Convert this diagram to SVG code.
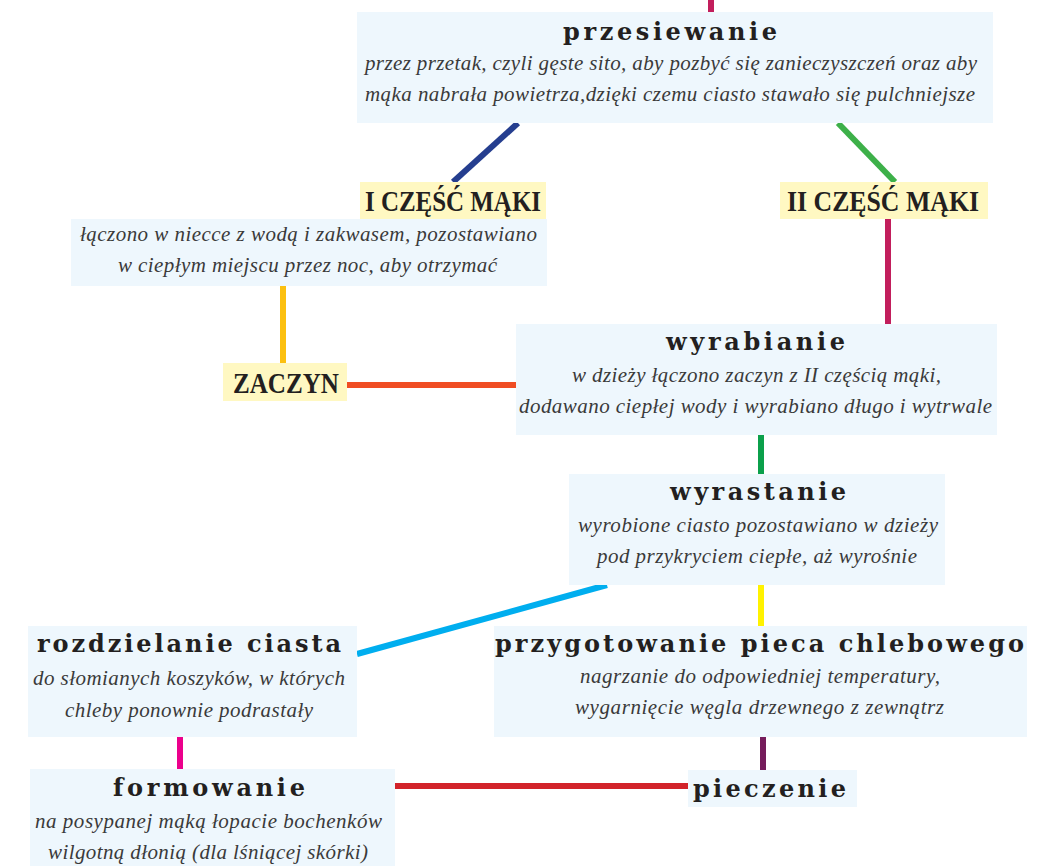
<svg xmlns="http://www.w3.org/2000/svg" width="1059" height="866" viewBox="0 0 1059 866">
<style>
.box{fill:#eef7fd}
.ybox{fill:#fff8c2}
.t{font-family:"DejaVu Serif","Liberation Serif",serif;font-weight:bold;font-size:24px;fill:#231f20;text-anchor:middle}
.c{font-family:"Liberation Serif","DejaVu Serif",serif;font-weight:bold;font-size:29px;fill:#231f20;text-anchor:middle}
.i{font-family:"Liberation Serif","DejaVu Serif",serif;font-style:italic;font-size:21px;fill:#3a3a3a;text-anchor:middle}
.ln{fill:none;stroke-width:6;stroke-linecap:butt}
</style>
<rect width="1059" height="866" fill="#ffffff"/>
<g id="connectors">
<line class="ln" x1="711" y1="0" x2="711" y2="12" stroke="#c21e5c"/>
<line class="ln" x1="518" y1="123" x2="453" y2="182" stroke="#253e8f"/>
<line class="ln" x1="838" y1="123" x2="895" y2="182" stroke="#3db049"/>
<line class="ln" x1="888" y1="219" x2="888" y2="324" stroke="#c21e5c"/>
<line class="ln" x1="283" y1="286" x2="283" y2="363" stroke="#fcc010"/>
<line class="ln" x1="347" y1="385" x2="516" y2="385" stroke="#f04d23"/>
<line class="ln" x1="761" y1="435" x2="761" y2="474" stroke="#0ba04b"/>
<line class="ln" x1="761" y1="585" x2="761" y2="626" stroke="#fff200"/>
<line class="ln" x1="607" y1="585" x2="357" y2="654" stroke="#00aeef" stroke-width="8"/>
<line class="ln" x1="180" y1="737" x2="180" y2="769" stroke="#ec008c"/>
<line class="ln" x1="763" y1="737" x2="763" y2="770" stroke="#751c5b"/>
<line class="ln" x1="395" y1="786" x2="690" y2="786" stroke="#d2232a"/>
</g>
<g id="przesiewanie">
<rect class="box" x="357" y="12" width="636" height="111"/>
<text class="t" x="670" y="40" textLength="214" lengthAdjust="spacing">przesiewanie</text>
<text class="i" x="671" y="70" textLength="612" lengthAdjust="spacing">przez przetak, czyli gęste sito, aby pozbyć się zanieczyszczeń oraz aby</text>
<text class="i" x="670" y="101" textLength="610" lengthAdjust="spacing">mąka nabrała powietrza,dzięki czemu ciasto stawało się pulchniejsze</text>
</g>
<g id="czesc1">
<rect class="ybox" x="360" y="182" width="186" height="37"/>
<text class="c" x="453" y="211" textLength="176" lengthAdjust="spacingAndGlyphs">I CZĘŚĆ MĄKI</text>
</g>
<g id="czesc1-opis">
<rect class="box" x="71" y="219" width="476" height="67"/>
<text class="i" x="308.5" y="241" textLength="457" lengthAdjust="spacing">łączono w niecce z wodą i zakwasem, pozostawiano</text>
<text class="i" x="307.5" y="272" textLength="379" lengthAdjust="spacing">w ciepłym miejscu przez noc, aby otrzymać</text>
</g>
<g id="czesc2">
<rect class="ybox" x="780" y="182" width="208" height="37"/>
<text class="c" x="883" y="211" textLength="192" lengthAdjust="spacingAndGlyphs">II CZĘŚĆ MĄKI</text>
</g>
<g id="zaczyn">
<rect class="ybox" x="223" y="363" width="124" height="38"/>
<text class="c" x="286" y="393" textLength="106" lengthAdjust="spacingAndGlyphs">ZACZYN</text>
</g>
<g id="wyrabianie">
<rect class="box" x="516" y="324" width="481" height="111"/>
<text class="t" x="755.5" y="350" textLength="179" lengthAdjust="spacing">wyrabianie</text>
<text class="i" x="756.5" y="382" textLength="369" lengthAdjust="spacing">w dzieży łączono zaczyn z II częścią mąki,</text>
<text class="i" x="755.5" y="413" textLength="473" lengthAdjust="spacing">dodawano ciepłej wody i wyrabiano długo i wytrwale</text>
</g>
<g id="wyrastanie">
<rect class="box" x="569" y="474" width="376" height="111"/>
<text class="t" x="758" y="500" textLength="176" lengthAdjust="spacing">wyrastanie</text>
<text class="i" x="758" y="532" textLength="360" lengthAdjust="spacing">wyrobione ciasto pozostawiano w dzieży</text>
<text class="i" x="757" y="563" textLength="320" lengthAdjust="spacing">pod przykryciem ciepłe, aż wyrośnie</text>
</g>
<g id="rozdzielanie">
<rect class="box" x="28" y="626" width="329" height="111"/>
<text class="t" x="189" y="652" textLength="304" lengthAdjust="spacing">rozdzielanie ciasta</text>
<text class="i" x="189" y="685" textLength="312" lengthAdjust="spacing">do słomianych koszyków, w których</text>
<text class="i" x="189" y="717" textLength="248" lengthAdjust="spacing">chleby ponownie podrastały</text>
</g>
<g id="przygotowanie">
<rect class="box" x="494" y="626" width="533" height="111"/>
<text class="t" x="759.5" y="652" textLength="529" lengthAdjust="spacing">przygotowanie pieca chlebowego</text>
<text class="i" x="760" y="683" textLength="360" lengthAdjust="spacing">nagrzanie do odpowiedniej temperatury,</text>
<text class="i" x="759.5" y="714" textLength="369" lengthAdjust="spacing">wygarnięcie węgla drzewnego z zewnątrz</text>
</g>
<g id="formowanie">
<rect class="box" x="30" y="769" width="365" height="100"/>
<text class="t" x="209" y="796" textLength="192" lengthAdjust="spacing">formowanie</text>
<text class="i" x="208.5" y="828" textLength="347" lengthAdjust="spacing">na posypanej mąką łopacie bochenków</text>
<text class="i" x="208" y="859" textLength="320" lengthAdjust="spacing">wilgotną dłonią (dla lśniącej skórki)</text>
</g>
<g id="pieczenie">
<rect class="box" x="688" y="770" width="169" height="37"/>
<text class="t" x="769.5" y="797" textLength="153" lengthAdjust="spacing">pieczenie</text>
</g>
</svg>
